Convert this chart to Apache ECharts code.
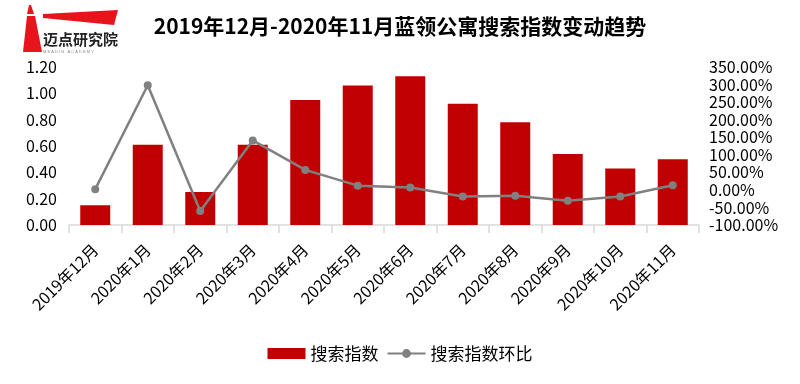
<!DOCTYPE html>
<html>
<head>
<meta charset="utf-8">
<script src="https://cdn.jsdelivr.net/npm/echarts@6/dist/echarts.min.js"></script>
<style>
html,body{margin:0;padding:0;background:#fff;}
#c{width:800px;height:384px;}
</style>
</head>
<body>
<div id="c"></div>
<script>
var categories = ['2019年12月','2020年1月','2020年2月','2020年3月','2020年4月','2020年5月','2020年6月','2020年7月','2020年8月','2020年9月','2020年10月','2020年11月'];
var searchIndex = [0.15, 0.61, 0.25, 0.61, 0.95, 1.06, 1.13, 0.92, 0.78, 0.54, 0.43, 0.50];
var searchIndexMoM = [2, 298, -60, 141, 57, 12, 7, -19, -17, -31, -19, 13];
var leftTicks = [0, 0.2, 0.4, 0.6, 0.8, 1.0, 1.2];
var rightTicks = [-100, -50, 0, 50, 100, 150, 200, 250, 300, 350];
var titleText = '2019年12月-2020年11月蓝领公寓搜索指数变动趋势';
var seriesNames = ['搜索指数', '搜索指数环比'];

var FONT = '"Noto Sans CJK SC", "Noto Sans", sans-serif';
var chart = echarts.init(document.getElementById('c'), null, {renderer: 'canvas'});
chart.setOption({
  animation: false,
  backgroundColor: '#ffffff',
  textStyle: {fontFamily: FONT},
  title: {
    text: titleText,
    left: 'center',
    top: 11,
    textStyle: {fontSize: 21, fontWeight: 'bold', color: '#000', fontFamily: FONT}
  },
  graphic: [
    {type: 'polygon', id: 'lhBody', x: 0, y: 0, shape: {points: [[27,16],[35,16],[42,52],[23,52]]}, style: {fill: '#e8141c'}, z: 100},
    {type: 'polygon', id: 'lhTop', x: 0, y: 0, shape: {points: [[29,5],[31,5],[34,14],[27,14]]}, style: {fill: '#e8141c'}, z: 100},
    {type: 'polygon', id: 'wedge', x: 0, y: 0, shape: {points: [[43,14],[118,10],[114,25],[43,18]]}, style: {fill: '#e8141c'}, z: 100},
    {type: 'text', id: 'logoText', x: 43, y: 32, style: {text: '迈点研究院', font: 'bold 15px "Noto Sans CJK SC"', fill: '#222'}, z: 100},
    {type: 'text', id: 'logoSub', x: 43, y: 50, style: {text: 'M E A D I N   A C A D E M Y', font: '4px sans-serif', fill: '#888'}, z: 100}
  ],
  legend: {
    bottom: 17,
    left: 'center',
    itemWidth: 38,
    itemHeight: 11,
    itemGap: 8,
    textStyle: {fontSize: 17, color: '#000', fontFamily: FONT},
    data: [
      {name: seriesNames[0], icon: 'rect'},
      {name: seriesNames[1]}
    ]
  },
  grid: {left: 69, right: 101, top: 67, bottom: 159, containLabel: false},
  xAxis: {
    type: 'category',
    data: categories,
    axisLine: {lineStyle: {color: '#d9d9d9', width: 1.5}},
    axisTick: {show: true, alignWithLabel: false, length: 8, lineStyle: {color: '#d9d9d9', width: 1.5}},
    axisLabel: {rotate: 45, margin: 22, fontSize: 16, color: '#000', fontFamily: FONT, interval: 0}
  },
  yAxis: [
    {
      type: 'value', min: 0, max: 1.2, interval: 0.2,
      axisLine: {show: false}, axisTick: {show: false}, splitLine: {show: false},
      axisLabel: {fontSize: 16, color: '#000', margin: 12, fontFamily: FONT, formatter: function (v) { return v.toFixed(2); }}
    },
    {
      type: 'value', min: -100, max: 350, interval: 50,
      axisLine: {show: false}, axisTick: {show: false}, splitLine: {show: false},
      axisLabel: {fontSize: 16, color: '#000', margin: 10, fontFamily: FONT, formatter: function (v) { return v.toFixed(2) + '%'; }}
    }
  ],
  series: [
    {
      name: seriesNames[0], type: 'bar', data: searchIndex, barWidth: 30,
      itemStyle: {color: '#c00000'}, yAxisIndex: 0
    },
    {
      name: seriesNames[1], type: 'line', data: searchIndexMoM, yAxisIndex: 1,
      symbol: 'circle', symbolSize: 8,
      lineStyle: {color: '#808080', width: 2.5},
      itemStyle: {color: '#808080'}
    }
  ]
});
</script>
</body>
</html>
